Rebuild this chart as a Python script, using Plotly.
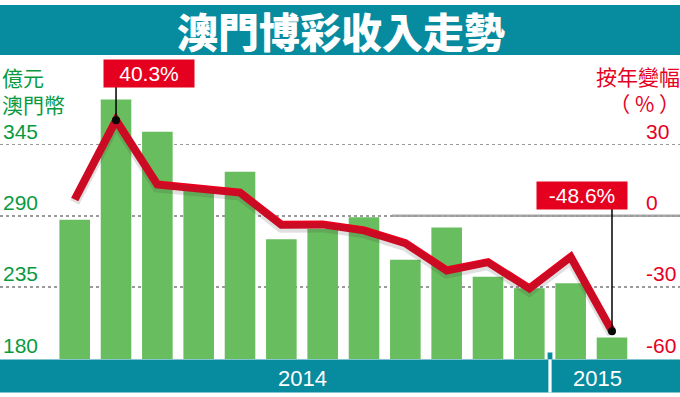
import plotly.graph_objects as go

# ---------------- data ----------------
months = ["1月", "2月", "3月", "4月", "5月", "6月", "7月", "8月", "9月", "10月", "11月", "12月", "1月", "2月"]
years = ["2014", "2015"]
year_month_counts = [12, 2]
revenue = [287, 380, 355, 313, 324, 272, 280, 289, 256, 281, 243, 234, 238, 196]  # 億元澳門幣
yoy = [6.9, 40.3, 13.2, 11.4, 9.8, -3.7, -3.6, -6.1, -11.5, -23.0, -19.5, -30.6, -17.3, -48.6]  # %
left_ticks = [180, 235, 290, 345]
right_ticks = [-60, -30, 0, 30]
highlight = [1, 13]  # indices with value boxes

title = "澳門博彩收入走勢"
left_unit = ["億元", "澳門幣"]
right_unit = ["按年變幅", "（ % ）"]

# ---------------- geometry helpers ----------------
W, H = 680, 397
T, B = 55, 38
PLOT_H = H - T - B          # 304
BOTTOM = H - B              # 359
PITCH = 41.33
X0PX = 74.7
r0 = -X0PX / PITCH
r1 = r0 + W / PITCH
ppu1 = 71.17 / 55
ppu2 = 71.17 / 30
GRID180_PX = 358.2
y1min = 180 - (BOTTOM - GRID180_PX) / ppu1
y1max = y1min + PLOT_H / ppu1
y2min = -60 - (BOTTOM - GRID180_PX) / ppu2
y2max = y2min + PLOT_H / ppu2

TEAL = "#078b9f"
GREEN_BAR = "#68bd5e"
GREEN_TXT = "#0a9a3e"
RED = "#e6001f"
CJK = "Noto Sans CJK TC"
LAT = "Liberation Sans, Arial, sans-serif"


def pxx(p):
    return p / W


def pxy(p):
    return (BOTTOM - p) / PLOT_H


def y2_at(p):
    return y2min + (BOTTOM - p) / ppu2


idx = list(range(len(revenue)))

fig = go.Figure()
fig.add_trace(go.Bar(x=idx, y=revenue, width=0.74, marker=dict(color=GREEN_BAR, line=dict(width=0)),
                     hoverinfo="skip", yaxis="y"))
# soft shadow under the line
fig.add_trace(go.Scatter(x=idx, y=yoy, mode="lines", yaxis="y3",
                         line=dict(color="rgba(60,60,60,0.16)", width=10), hoverinfo="skip"))
fig.add_trace(go.Scatter(x=idx, y=yoy, mode="lines", yaxis="y2",
                         line=dict(color=RED, width=8), hoverinfo="skip"))
fig.add_trace(go.Scatter(x=[idx[i] for i in highlight], y=[yoy[i] for i in highlight], mode="markers",
                         yaxis="y2", marker=dict(color="black", size=8), hoverinfo="skip"))

shapes = []
# title band
shapes.append(dict(type="rect", xref="paper", yref="paper", x0=0, x1=1, y0=pxy(55), y1=pxy(5),
                   fillcolor=TEAL, line=dict(width=0), layer="above"))
# bottom band
shapes.append(dict(type="rect", xref="paper", yref="paper", x0=0, x1=1, y0=pxy(392.5), y1=pxy(359.5),
                   fillcolor=TEAL, line=dict(width=0), layer="above"))
# year divider
div_x = year_month_counts[0] - 0.5
hw = 1.6 / PITCH
shapes.append(dict(type="rect", xref="x", yref="paper", x0=div_x - 1.5 * hw, x1=div_x + 1.5 * hw,
                   y0=pxy(359.5), y1=pxy(352.5), fillcolor=TEAL, line=dict(width=0), layer="above"))
shapes.append(dict(type="rect", xref="x", yref="paper", x0=div_x - hw, x1=div_x + hw,
                   y0=pxy(392.5), y1=pxy(359.5), fillcolor="white", line=dict(width=0), layer="above"))
# solid zero line on the right
shapes.append(dict(type="line", xref="paper", yref="y2", x0=pxx(392), x1=1, y0=0, y1=0,
                   line=dict(color="#a8a8a8", width=2.5), layer="below"))
# connectors to value boxes
box_bottom_px = {1: 87, 13: 209}
for i in highlight:
    shapes.append(dict(type="line", xref="x", yref="y2", x0=i, x1=i, y0=yoy[i], y1=y2_at(box_bottom_px[i]),
                       line=dict(color="black", width=1.5), layer="above"))

annotations = []
annotations.append(dict(text=title, xref="paper", yref="paper", x=pxx(341), y=pxy(30), showarrow=False,
                        xanchor="center", yanchor="middle",
                        font=dict(family=CJK, size=41, color="white", weight=900)))
annotations.append(dict(text="<br>".join(left_unit), xref="paper", yref="paper", x=pxx(0), y=pxy(90),
                        xanchor="left", yanchor="middle", align="left", showarrow=False,
                        font=dict(family=CJK, size=21, color=GREEN_TXT)))
annotations.append(dict(text="<br>".join(right_unit), xref="paper", yref="paper", x=pxx(682), y=pxy(89.5),
                        xanchor="right", yanchor="middle", align="right", showarrow=False,
                        font=dict(family=CJK, size=21, color=RED)))
# year labels
start = 0
for yname, n in zip(years, year_month_counts):
    cx = start + (n - 1) / 2 + (0.15 if n < 4 else 0)
    annotations.append(dict(text=yname, xref="x", yref="paper", x=cx, y=pxy(378), showarrow=False,
                            xanchor="center", yanchor="middle", font=dict(family=LAT, size=22, color="white")))
    start += n
# value boxes
box_center = {1: (149, 73.5), 13: (581.7, 195.7)}
for i in highlight:
    cx, cy = box_center[i]
    annotations.append(dict(text=f"{yoy[i]:.1f}%", xref="paper", yref="paper", x=pxx(cx), y=pxy(cy),
                            xanchor="center", yanchor="middle", showarrow=False, bgcolor=RED,
                            width=88, height=25, borderpad=1,
                            font=dict(family=LAT, size=21, color="white")))

fig.update_layout(
    width=W, height=H, margin=dict(l=0, r=0, t=T, b=B, autoexpand=False),
    paper_bgcolor="white", plot_bgcolor="white", showlegend=False,
    shapes=shapes, annotations=annotations,
    xaxis=dict(range=[r0, r1], showgrid=False, zeroline=False, showticklabels=False, fixedrange=True,
               automargin=False),
    yaxis=dict(range=[y1min, y1max], tickvals=left_ticks, ticktext=[str(v) for v in left_ticks],
               showgrid=True, gridcolor="#9a9a9a", griddash="dot", gridwidth=1.5, zeroline=False,
               ticklabelposition="inside", ticklabelshift=-13, ticklabelstandoff=0, automargin=False,
               ticklabeloverflow="allow",
               tickfont=dict(family=LAT, size=21, color=GREEN_TXT)),
    yaxis2=dict(range=[y2min, y2max], overlaying="y", anchor="free", position=pxx(644), side="right",
                tickvals=right_ticks, ticktext=[str(v) for v in right_ticks], showgrid=False,
                zeroline=False, showline=False, ticks="", ticklabelshift=-13, ticklabelstandoff=1,
                automargin=False, ticklabeloverflow="allow", tickfont=dict(family=LAT, size=21, color=RED)),
    yaxis3=dict(range=[y2min + 3 / ppu2, y2max + 3 / ppu2], overlaying="y", visible=False, automargin=False),
)

fig.write_html("out.html", config={"displayModeBar": False, "staticPlot": True},
               post_script="document.body.style.margin='0';document.body.style.overflow='hidden';")
